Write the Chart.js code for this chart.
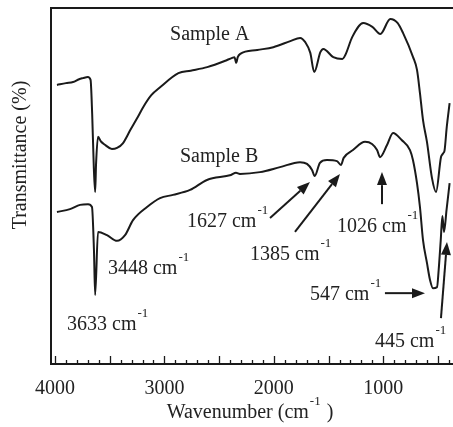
<!DOCTYPE html>
<html>
<head>
<meta charset="utf-8">
<script src="https://cdn.jsdelivr.net/npm/chart.js@4.4.0/dist/chart.umd.min.js"></script>
<style>
html,body{margin:0;padding:0;background:#fff;}
#wrap{width:453px;height:427px;}
</style>
</head>
<body>
<div id="wrap"><canvas id="ftir"></canvas></div>
<script>
// wavenumber (cm-1) and transmittance (arb. %)
var wnA = [3982,3900,3835,3780,3744,3700,3675,3660,3645,3633,3625,3607,3580,3540,3480,3433,3380,3312,3250,3193,3120,3037,2872,2760,2609,2450,2381,2360,2344,2330,2307,2152,2005,1850,1760,1713,1667,1631,1575,1548,1457,1374,1347,1283,1183,1100,1027,936,870,820,728,692,665,637,601,555,518,473,464,450,440,420,394];
var tA  = [78.4,78.9,79.2,80.0,80.3,80.6,79.8,70.0,55.0,48.3,56.0,63.8,62.5,61.5,60.4,60.7,62.0,65.7,69.0,72.2,75.5,77.8,81.7,82.4,83.4,85.1,86.0,86.2,84.6,86.2,87.1,88.2,89.0,90.7,91.6,90.4,87.4,82.0,87.6,88.5,86.2,85.7,86.8,91.9,95.8,94.7,92.7,96.9,95.8,93.0,86.2,82.6,76.1,68.5,62.4,52.2,48.3,58.1,58.7,59.3,60.0,66.6,73.3];

var wnB = [3982,3863,3771,3698,3662,3644,3633,3607,3525,3433,3360,3287,3159,3040,2922,2766,2611,2392,2346,2310,2127,1944,1761,1697,1651,1627,1579,1515,1423,1387,1362,1277,1167,1103,1057,1030,966,911,832,756,729,692,665,637,601,573,546,509,494,475,460,445,422,394];
var tB  = [42.7,43.5,44.7,44.9,44.1,32.0,19.4,37.1,36.2,34.6,36.2,40.4,44.1,46.6,47.5,48.9,51.7,53.1,53.7,53.4,53.9,55.3,56.7,56.2,54.5,52.8,56.5,57.3,57.0,55.9,57.9,60.1,62.4,61.8,60.1,58.1,61.5,64.9,62.9,60.1,57.3,50.8,44.1,34.8,28.4,23.6,21.3,21.6,26.4,34.8,41.6,37.1,43.3,50.8];

var xTicks = [4000, 3000, 2000, 1000];

// peak labels: text, left wavenumber, baseline transmittance
var noteText = ["Sample A", "Sample B", "3448 cm", "3633 cm", "1627 cm", "1385 cm", "1026 cm", "547 cm", "445 cm"];
var noteSup  = ["", "", "-1", "-1", "-1", "-1", "-1", "-1", "-1"];
var noteWn   = [2949, 2858, 3516, 3890, 2794, 2218, 1423, 1670, 1076];
var noteT    = [91.0, 56.7, 25.3, 9.6, 38.5, 29.2, 37.1, 18.0, 4.8];

// arrows: tail (wn, T) -> tip (wn, T)
var arrTailWn = [2035, 1807, 1012, 985, 473];
var arrTailT  = [41.0, 37.1, 44.9, 19.9, 12.9];
var arrTipWn  = [1670, 1396, 1012, 619, 418];
var arrTipT   = [51.1, 53.4, 53.9, 19.9, 34.3];

var ink = "#1a1a1a";
var serif = "'Liberation Serif', 'Times New Roman', serif";

function supText(ctx, txt, sup, x, y, size){
    ctx.font = size + "px " + serif;
    ctx.textAlign = "left";
    ctx.textBaseline = "alphabetic";
    ctx.fillText(txt, x, y);
    var w = ctx.measureText(txt).width;
    if(sup){
        ctx.font = Math.round(size*0.65) + "px " + serif;
        ctx.fillText(sup, x + w + 1, y - 13);
        w += ctx.measureText(sup).width + 1;
    }
    return w;
}

var decor = {
    id: "decor",
    afterDraw: function(chart){
        var ctx = chart.ctx;
        var a = chart.chartArea;
        var xs = chart.scales.x, ys = chart.scales.y;
        ctx.save();
        ctx.strokeStyle = ink;
        ctx.fillStyle = ink;
        // top frame line
        ctx.lineWidth = 2;
        ctx.beginPath();
        ctx.moveTo(a.left, a.top);
        ctx.lineTo(a.right, a.top);
        ctx.stroke();
        // inward tick marks
        ctx.lineWidth = 1.3;
        for(var w = 4000; w >= 400; w -= 100){
            var px = Math.round(xs.getPixelForValue(w)) + 0.5;
            var len = (w % 500 == 0) ? 8 : 4;
            ctx.beginPath();
            ctx.moveTo(px, a.bottom);
            ctx.lineTo(px, a.bottom - len);
            ctx.stroke();
        }
        // arrows
        ctx.lineWidth = 2;
        for(var i = 0; i < arrTailWn.length; i++){
            var x0 = xs.getPixelForValue(arrTailWn[i]), y0 = ys.getPixelForValue(arrTailT[i]);
            var x1 = xs.getPixelForValue(arrTipWn[i]), y1 = ys.getPixelForValue(arrTipT[i]);
            var ang = Math.atan2(y1 - y0, x1 - x0);
            var hl = 13, hw = 5;
            var bx = x1 - hl*Math.cos(ang), by = y1 - hl*Math.sin(ang);
            ctx.beginPath();
            ctx.moveTo(x0, y0);
            ctx.lineTo(bx, by);
            ctx.stroke();
            ctx.beginPath();
            ctx.moveTo(x1, y1);
            ctx.lineTo(bx + hw*Math.sin(ang), by - hw*Math.cos(ang));
            ctx.lineTo(bx - hw*Math.sin(ang), by + hw*Math.cos(ang));
            ctx.closePath();
            ctx.fill();
        }
        // peak labels
        ctx.fillStyle = "#222";
        for(var j = 0; j < noteText.length; j++){
            supText(ctx, noteText[j], noteSup[j], xs.getPixelForValue(noteWn[j]), ys.getPixelForValue(noteT[j]), 20);
        }
        // axis titles
        ctx.font = "20px " + serif;
        var t1 = "Wavenumber (cm", t2 = " )";
        var w1 = ctx.measureText(t1).width, w3 = ctx.measureText(t2).width;
        ctx.font = "13px " + serif;
        var w2 = ctx.measureText("-1").width;
        var cx = (a.left + a.right)/2 - 2 - (w1 + w2 + w3 + 2)/2;
        var by2 = 418;
        ctx.textAlign = "left";
        ctx.textBaseline = "alphabetic";
        ctx.font = "20px " + serif;
        ctx.fillText(t1, cx, by2);
        ctx.font = "13px " + serif;
        ctx.fillText("-1", cx + w1 + 1, by2 - 13);
        ctx.font = "20px " + serif;
        ctx.fillText(t2, cx + w1 + w2 + 2, by2);
        ctx.translate(21, 155);
        ctx.rotate(-Math.PI/2);
        ctx.textAlign = "center";
        ctx.textBaseline = "middle";
        ctx.fillText("Transmittance (%)", 0, 0);
        ctx.restore();
    }
};

var config = {
    type: "line",
    data: {
        datasets: [
        {
            label: "Sample A",
            data: wnA.map((w, i) => ({x: w, y: tA[i]})),
            borderColor: ink,
            borderWidth: 2,
            pointRadius: 0,
            cubicInterpolationMode: "monotone"
        },
        {
            label: "Sample B",
            data: wnB.map((w, i) => ({x: w, y: tB[i]})),
            borderColor: ink,
            borderWidth: 2,
            pointRadius: 0,
            cubicInterpolationMode: "monotone"
        }]
    },
    options: {
        responsive: true,
        maintainAspectRatio: false,
        animation: false,
        layout: { padding: { top: 8, right: 0, left: 0, bottom: 0 } },
        plugins: {
            legend: { display: false },
            tooltip: { enabled: false }
        },
        scales: {
            x: {
                type: "linear",
                reverse: true,
                min: 363,
                max: 4036.5,
                grid: { display: false, drawTicks: false },
                border: { display: true, color: ink, width: 2 },
                afterBuildTicks: s => { s.ticks = xTicks.map(v => ({value: v})); },
                afterFit: s => { s.height = 63; },
                ticks: {
                    padding: 13,
                    color: "#222",
                    font: { family: serif, size: 20 },
                    maxRotation: 0,
                    callback: v => String(v)
                }
            },
            y: {
                min: 0,
                max: 100,
                grid: { display: false, drawTicks: false },
                border: { display: true, color: ink, width: 2 },
                ticks: { display: false },
                afterFit: s => { s.width = 51; }
            }
        }
    },
    plugins: [decor]
};

new Chart(document.getElementById("ftir").getContext("2d"), config);
</script>
</body>
</html>
